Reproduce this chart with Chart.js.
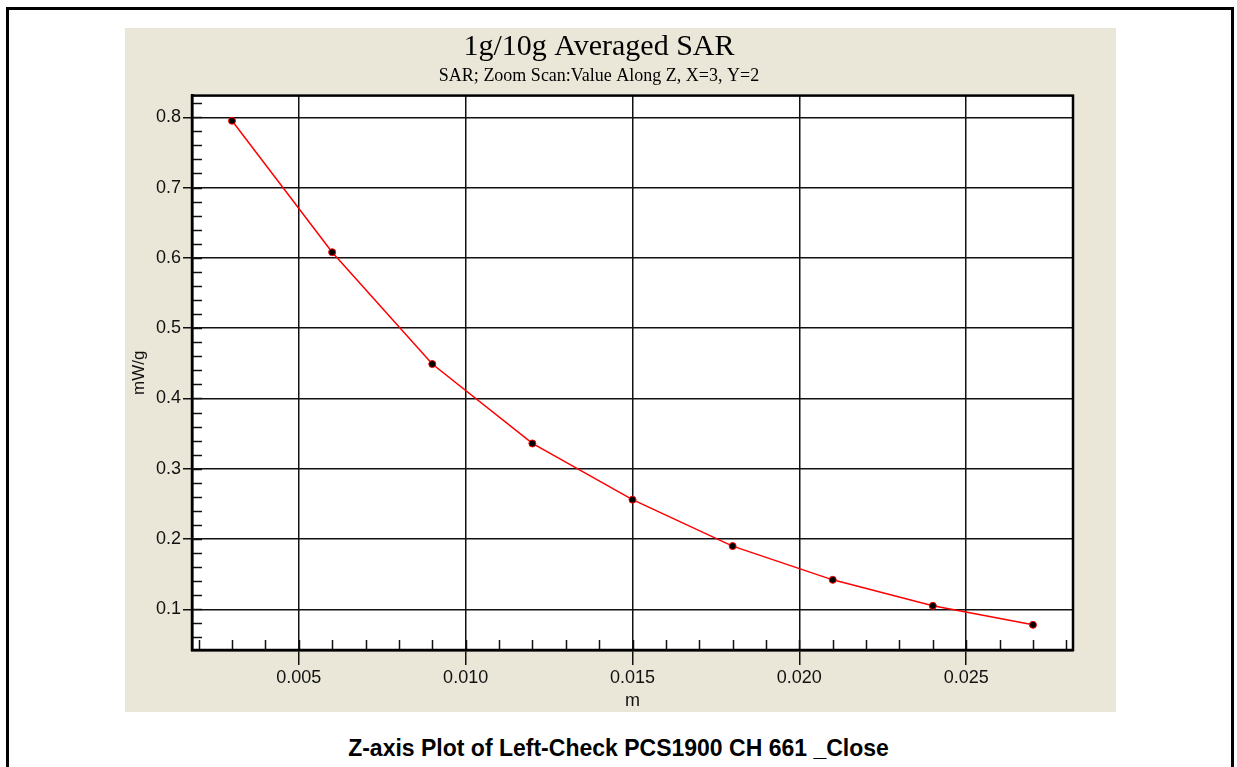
<!DOCTYPE html>
<html>
<head>
<meta charset="utf-8">
<script src="https://cdn.jsdelivr.net/npm/chart.js@4/dist/chart.umd.min.js"></script>
<style>
  html, body { margin: 0; padding: 0; background: #fff; overflow: hidden; }
  body { width: 1237px; height: 767px; position: relative; }
  #frame {
    position: absolute; left: 6px; top: 7px;
    width: 1222px; height: 800px;
    border: 3px solid #000;
  }
  #panel {
    position: absolute; left: 125px; top: 28px;
    width: 991px; height: 684px;
    background: #ebe7d8;
  }
  #caption {
    position: absolute; left: 0; width: 1237px; top: 735px;
    text-align: center;
    font: bold 23px "Liberation Sans", Arial, sans-serif;
    color: #000;
  }
</style>
</head>
<body>
<div id="frame"></div>
<div id="panel"><canvas id="sarChart" width="991" height="684"></canvas></div>
<div id="caption">Z-axis Plot of Left-Check PCS1900 CH 661 _Close</div>

<script>
// values (z in m, SAR in mW/g)
const zValues = [0.003, 0.006, 0.009, 0.012, 0.015, 0.018, 0.021, 0.024, 0.027];
const sarValues = [0.795, 0.608, 0.449, 0.336, 0.256, 0.190, 0.142, 0.105, 0.078];

const chartTitle = "1g/10g Averaged SAR";
const chartSubtitle = "SAR; Zoom Scan:Value Along Z, X=3, Y=2";
const xLabel = "m";
const yLabel = "mW/g";

// axis limits: data range padded 5% each side
const xMin = 0.0018, xMax = 0.0282;
const yMin = 0.0422, yMax = 0.8308;
const xMajor = 0.005, xMinor = 0.001;
const yMajor = 0.1, yMinor = 0.02;

// white plot area, top/right border and inward minor ticks
const plotFrame = {
    id: "plotFrame",
    beforeDraw(chart) {
        const { ctx, chartArea: a } = chart;
        ctx.save();
        ctx.fillStyle = "#fff";
        ctx.fillRect(a.left, a.top, a.right - a.left, a.bottom - a.top);
        ctx.restore();
    },
    afterDraw(chart) {
        const { ctx, chartArea: a } = chart;
        const xs = chart.scales.x, ys = chart.scales.y;
        ctx.save();
        ctx.strokeStyle = "#111";
        ctx.lineWidth = 1.5;
        ctx.beginPath();
        for (let i = Math.ceil(xMin / xMinor); i * xMinor <= xMax; i++) {
            const px = Math.round(xs.getPixelForValue(i * xMinor)) + 0.5;
            ctx.moveTo(px, a.bottom);
            ctx.lineTo(px, a.bottom - 10);
        }
        for (let i = Math.ceil(yMin / yMinor); i * yMinor <= yMax; i++) {
            const py = Math.round(ys.getPixelForValue(i * yMinor)) + 0.5;
            ctx.moveTo(a.left, py);
            ctx.lineTo(a.left + 10, py);
        }
        ctx.stroke();
        ctx.lineWidth = 2.5;
        ctx.strokeStyle = "#000";
        ctx.strokeRect(a.left, a.top, a.right - a.left, a.bottom - a.top);
        ctx.restore();
    }
};

const sarCtx = document.getElementById("sarChart").getContext("2d");

const sarChart = new Chart(sarCtx, {
    type: "scatter",
    data: {
        datasets: [{
            data: zValues.map((z, i) => ({ x: z, y: sarValues[i] })),
            showLine: true,
            borderColor: "rgb(255, 0, 0)",
            borderWidth: 1.5,
            pointBackgroundColor: "#000",
            pointBorderColor: "rgb(255, 0, 0)",
            pointBorderWidth: 1,
            pointRadius: 3.5,
            tension: 0
        }]
    },
    options: {
        responsive: false,
        animation: false,
        devicePixelRatio: 1,
        layout: { padding: { left: 0, right: 43, top: 0, bottom: 0 } },
        plugins: {
            legend: { display: false },
            tooltip: { enabled: false },
            title: {
                display: true,
                text: chartTitle,
                color: "#000",
                font: { family: "Liberation Serif", size: 30, weight: "normal", lineHeight: 1 },
                padding: { top: 4, bottom: 0 }
            },
            subtitle: {
                display: true,
                text: chartSubtitle,
                color: "#000",
                font: { family: "Liberation Serif", size: 18, weight: "normal" },
                padding: { top: 3, bottom: 9 }
            }
        },
        scales: {
            x: {
                type: "linear",
                min: xMin,
                max: xMax,
                afterFit: (s) => { s.height = 62; },
                border: { color: "#000", width: 2.5 },
                grid: { color: "#111", lineWidth: 1.5, tickLength: 15, tickColor: "#111" },
                ticks: {
                    stepSize: xMajor,
                    includeBounds: false,
                    padding: 2,
                    color: "#111",
                    font: { family: "Liberation Sans", size: 18 },
                    callback: (v) => v.toFixed(3)
                },
                title: {
                    display: true,
                    text: xLabel,
                    color: "#111",
                    font: { family: "Liberation Sans", size: 18 },
                    padding: { top: 3, bottom: 0 }
                }
            },
            y: {
                type: "linear",
                min: yMin,
                max: yMax,
                afterFit: (s) => { s.width = 67; },
                border: { color: "#000", width: 2.5 },
                grid: { color: "#111", lineWidth: 1.5, tickLength: 9, tickColor: "#111" },
                ticks: {
                    stepSize: yMajor,
                    includeBounds: false,
                    padding: 2,
                    color: "#111",
                    font: { family: "Liberation Sans", size: 18 },
                    callback: (v) => v.toFixed(1)
                },
                title: {
                    display: true,
                    text: yLabel,
                    color: "#111",
                    font: { family: "Liberation Sans", size: 17 },
                    padding: { top: 4, bottom: 0 }
                }
            }
        }
    },
    plugins: [plotFrame]
});
</script>
</body>
</html>
